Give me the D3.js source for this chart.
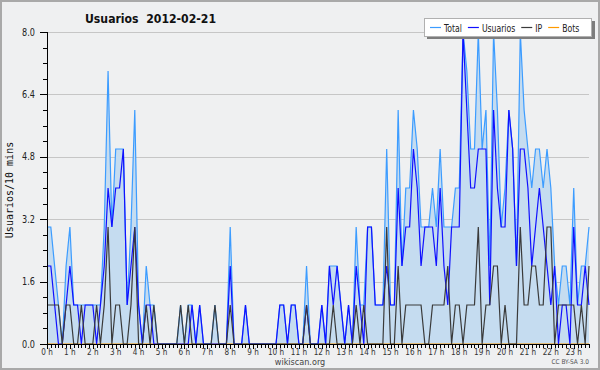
<!DOCTYPE html>
<meta charset="utf-8">
<head>
  <script src="https://cdn.jsdelivr.net/npm/d3@7"></script>
  <style>
    html, body { margin: 0; padding: 0; background: #fff; }
    svg { display: block; }
    text { font-family: "DejaVu Sans Condensed", "DejaVu Sans", sans-serif; }
  </style>
</head>
<body>
<svg id="chart" width="600" height="370"></svg>
<script>
  const title = "Usuarios  2012-02-21"
  const yLabel = "Usuarios/10 mins"
  const seriesNames = ["Total", "Usuarios", "IP", "Bots"]
  const yTicks = [0, 1.6, 3.2, 4.8, 6.4, 8.0]
  const hourLabels = ["0 h", "1 h", "2 h", "3 h", "4 h", "5 h", "6 h", "7 h", "8 h", "9 h", "10 h", "11 h",
    "12 h", "13 h", "14 h", "15 h", "16 h", "17 h", "18 h", "19 h", "20 h", "21 h", "22 h", "23 h"]

  // one value per 10 minutes, 12 per row (two hours)
  const total = [
    3, 3, 2, 1, 0, 2, 3, 1, 1, 1, 1, 1,
    1, 1, 1, 3, 7, 3, 5, 5, 5, 1, 3, 6,
    1, 0, 2, 1, 1, 0, 0, 0, 0, 0, 0, 1,
    0, 1, 1, 0, 1, 0, 0, 0, 1, 0, 0, 0,
    3, 0, 0, 0, 1, 0, 0, 0, 0, 0, 0, 0,
    0, 1, 1, 0, 1, 1, 0, 0, 2, 0, 0, 0,
    1, 0, 2, 2, 2, 1, 0, 1, 0, 3, 1, 1,
    3, 3, 1, 1, 1, 5, 1, 1, 6, 2, 4, 4,
    6, 5, 3, 3, 3, 4, 3, 5, 3, 3, 3, 4,
    4, 8, 7, 5, 5, 8, 5, 6, 2, 8, 6, 3,
    4, 6, 5, 2, 8, 6, 5, 4, 5, 5, 4, 5,
    4, 2, 1, 2, 2, 1, 4, 1, 2, 2, 3
  ]
  const usuarios = [
    2, 2, 1, 0, 0, 1, 2, 1, 1, 0, 1, 1,
    1, 0, 1, 2, 4, 3, 4, 4, 5, 1, 2, 3,
    1, 0, 1, 1, 0, 0, 0, 0, 0, 0, 0, 0,
    0, 0, 1, 0, 1, 0, 0, 0, 0, 0, 0, 0,
    2, 0, 0, 0, 1, 0, 0, 0, 0, 0, 0, 0,
    0, 1, 1, 0, 1, 1, 0, 0, 1, 0, 0, 0,
    1, 0, 2, 1, 2, 1, 0, 1, 0, 2, 1, 0,
    3, 3, 1, 1, 1, 2, 1, 1, 4, 2, 3, 3,
    5, 4, 2, 3, 3, 3, 2, 4, 2, 1, 3, 3,
    3, 8, 6, 4, 4, 5, 5, 5, 1, 6, 4, 3,
    3, 6, 5, 2, 5, 5, 4, 2, 3, 4, 3, 2,
    1, 2, 0, 1, 1, 0, 3, 1, 1, 2, 1
  ]
  const ip = [
    1, 1, 1, 1, 0, 1, 1, 0, 0, 1, 0, 0,
    0, 1, 0, 1, 3, 0, 1, 1, 0, 0, 1, 3,
    0, 0, 1, 0, 1, 0, 0, 0, 0, 0, 0, 1,
    0, 1, 0, 0, 0, 0, 0, 0, 1, 0, 0, 0,
    1, 0, 0, 0, 0, 0, 0, 0, 0, 0, 0, 0,
    0, 0, 0, 0, 0, 0, 0, 0, 1, 0, 0, 0,
    0, 0, 0, 1, 0, 0, 0, 0, 0, 1, 0, 1,
    0, 0, 0, 0, 0, 3, 0, 0, 2, 0, 1, 1,
    1, 1, 1, 0, 0, 1, 1, 1, 1, 2, 0, 1,
    1, 0, 1, 1, 1, 3, 0, 1, 1, 2, 2, 0,
    1, 0, 0, 0, 3, 1, 1, 2, 2, 1, 1, 3,
    3, 0, 1, 1, 1, 1, 1, 0, 1, 0, 2
  ]
  const bots = [
    0, 0, 0, 0, 0, 0, 0, 0, 0, 0, 0, 0,
    0, 0, 0, 0, 0, 0, 0, 0, 0, 0, 0, 0,
    0, 0, 0, 0, 0, 0, 0, 0, 0, 0, 0, 0,
    0, 0, 0, 0, 0, 0, 0, 0, 0, 0, 0, 0,
    0, 0, 0, 0, 0, 0, 0, 0, 0, 0, 0, 0,
    0, 0, 0, 0, 0, 0, 0, 0, 0, 0, 0, 0,
    0, 0, 0, 0, 0, 0, 0, 0, 0, 0, 0, 0,
    0, 0, 0, 0, 0, 0, 0, 0, 0, 0, 0, 0,
    0, 0, 0, 0, 0, 0, 0, 0, 0, 0, 0, 0,
    0, 0, 0, 0, 0, 0, 0, 0, 0, 0, 0, 0,
    0, 0, 0, 0, 0, 0, 0, 0, 0, 0, 0, 0,
    0, 0, 0, 0, 0, 0, 0, 0, 0, 0, 0
  ]

  const colors = ["#3c9cff", "#1010ff", "#3a3a3a", "#ff9a00"]

  const width = 600, height = 370
  const margin = { top: 32, left: 47, bottom: 26, right: 11 }
  const svg = d3.select("#chart")

  // squeeze a text to look like the narrow font of the original
  function narrow(sel, k) {
    sel.each(function () {
      let w = this.getComputedTextLength()
      d3.select(this).attr("textLength", w * k).attr("lengthAdjust", "spacingAndGlyphs")
    })
  }

  svg.append("rect")
    .attr("x", 1).attr("y", 1)
    .attr("width", width - 2).attr("height", height - 2)
    .attr("fill", "#eff0f1")
    .attr("stroke", "#a9a9a9").attr("stroke-width", 2)

  let x = d3.scaleLinear().domain([0, total.length - 1]).range([margin.left, width - margin.right])
  let y = d3.scaleLinear().domain([0, 8]).range([height - margin.bottom, margin.top])

  // grid
  svg.append("g")
    .selectAll("line")
    .data(yTicks.slice(1))
    .enter().append("line")
    .attr("x1", x(0)).attr("x2", x(total.length - 1))
    .attr("y1", d => Math.round(y(d)) + 0.5).attr("y2", d => Math.round(y(d)) + 0.5)
    .attr("stroke", "#c6c6c6")

  let area = d3.area()
    .x((d, i) => x(i))
    .y0(y(0))
    .y1(d => y(d))
  let line = d3.line()
    .x((d, i) => x(i))
    .y(d => y(d))

  svg.append("path")
    .datum(total)
    .attr("d", area)
    .attr("fill", "#c5dcf0")

  const series = [total, usuarios, ip, bots]
  // bots drawn first so it sits under the axis
  ;[3, 0, 1, 2].forEach(k => {
    svg.append("path")
      .datum(series[k])
      .attr("d", line)
      .attr("fill", "none")
      .attr("stroke", colors[k])
      .attr("stroke-width", 1.2)
      .attr("stroke-linejoin", "miter")
  })

  // y axis
  let yAxis = svg.append("g").attr("transform", "translate(" + x(0) + ",0)")
  yAxis.append("line")
    .attr("x1", 0.5).attr("x2", 0.5)
    .attr("y1", y(8)).attr("y2", y(0))
    .attr("stroke", "#000")
  yAxis.selectAll(".minor")
    .data(d3.range(0, 21).map(d => d * 0.4))
    .enter().append("line")
    .attr("x1", -4).attr("x2", 0)
    .attr("y1", d => Math.round(y(d)) + 0.5).attr("y2", d => Math.round(y(d)) + 0.5)
    .attr("stroke", "#000")
  yAxis.selectAll(".major")
    .data(yTicks)
    .enter().append("line")
    .attr("x1", -7).attr("x2", 0)
    .attr("y1", d => Math.round(y(d)) + 0.5).attr("y2", d => Math.round(y(d)) + 0.5)
    .attr("stroke", "#000")
  yAxis.selectAll("text")
    .data(yTicks)
    .enter().append("text")
    .attr("x", -12).attr("y", d => y(d) + 3.5)
    .attr("text-anchor", "end")
    .attr("font-size", 10)
    .attr("fill", "#222")
    .text(d => d.toFixed(1))
    .call(narrow, 0.9)

  // x axis
  let xAxis = svg.append("g").attr("transform", "translate(0," + y(0) + ")")
  xAxis.append("line")
    .attr("x1", x(0)).attr("x2", x(total.length - 1))
    .attr("y1", 0.5).attr("y2", 0.5)
    .attr("stroke", "#000")
  xAxis.selectAll(".tick")
    .data(d3.range(total.length))
    .enter().append("line")
    .attr("x1", d => Math.round(x(d)) + 0.5).attr("x2", d => Math.round(x(d)) + 0.5)
    .attr("y1", 0).attr("y2", d => d % 6 == 0 ? 5 : 4)
    .attr("stroke", "#000")
  xAxis.selectAll("text")
    .data(hourLabels)
    .enter().append("text")
    .attr("x", (d, i) => x(i * 6))
    .attr("y", 10.5)
    .attr("text-anchor", "middle")
    .attr("font-size", 9)
    .attr("fill", "#333")
    .text(d => d)
    .call(narrow, 0.9)

  svg.append("text")
    .attr("transform", "translate(13," + (y(4) + 2) + ") rotate(-90)")
    .attr("text-anchor", "middle")
    .style("font-family", "'DejaVu Sans Mono', monospace")
    .attr("font-size", 10)
    .attr("fill", "#111")
    .text(yLabel)

  svg.append("text")
    .attr("x", 85).attr("y", 23)
    .style("white-space", "pre")
    .attr("font-size", 13)
    .attr("font-weight", "bold")
    .attr("fill", "#111")
    .text(title)
    .attr("textLength", 131).attr("lengthAdjust", "spacingAndGlyphs")

  svg.append("text")
    .attr("x", 300).attr("y", 365)
    .attr("text-anchor", "middle")
    .attr("font-size", 9)
    .attr("fill", "#444")
    .text("wikiscan.org")

  svg.append("text")
    .attr("x", 589).attr("y", 364)
    .attr("text-anchor", "end")
    .attr("font-size", 6.5)
    .attr("fill", "#555")
    .text("CC BY-SA 3.0")

  // legend
  let legend = svg.append("g")
  legend.append("rect")
    .attr("x", 427).attr("y", 21).attr("width", 168).attr("height", 18)
    .attr("fill", "#7d7d7d")
  legend.append("rect")
    .attr("x", 424.5).attr("y", 18.5).attr("width", 167).attr("height", 18)
    .attr("fill", "#fff").attr("stroke", "#b0b0b0")
  let lx = 430
  seriesNames.forEach((name, k) => {
    legend.append("line")
      .attr("x1", lx).attr("x2", lx + 11)
      .attr("y1", 27.5).attr("y2", 27.5)
      .attr("stroke", colors[k]).attr("stroke-width", 1.2)
    let t = legend.append("text")
      .attr("x", lx + 14).attr("y", 31.5)
      .attr("font-size", 11)
      .attr("fill", "#222")
      .text(name)
    let w = t.node().getComputedTextLength() * 0.78
    t.attr("textLength", w).attr("lengthAdjust", "spacingAndGlyphs")
    lx += 14 + w + 6
  })
</script>
</body>
